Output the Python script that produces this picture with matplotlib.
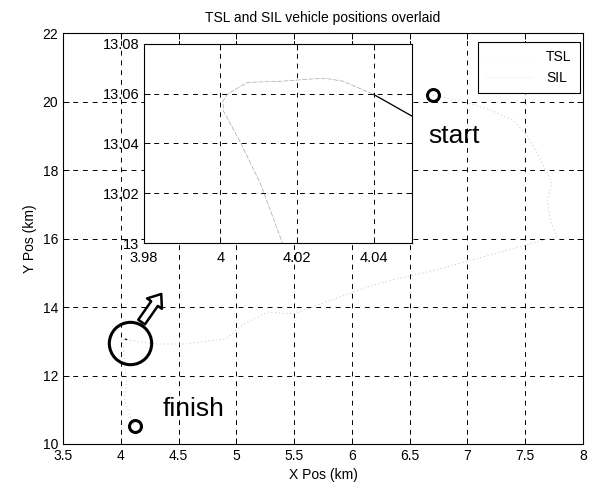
import numpy as np
import matplotlib.pyplot as plt

plt.rcParams['font.family'] = ['Liberation Sans', 'DejaVu Sans']
plt.rcParams['font.size'] = 10

# vehicle track (km), start -> finish
tsl_x = [6.70, 6.85, 6.98, 7.20, 7.39, 7.50, 7.62, 7.73, 7.69, 7.72, 7.77,
         7.60, 7.45, 7.13, 6.79, 6.61, 6.35, 6.13, 5.82, 5.50, 5.27, 5.06,
         4.91, 4.56, 4.32, 4.15,
         4.05, 4.040, 4.032, 4.028, 4.025, 4.016, 4.007, 4.002, 4.0006,
         4.0008, 4.0052, 4.0104, 4.0162,
         4.05, 4.03, 4.09, 4.12]
tsl_y = [20.19, 20.08, 19.98, 19.75, 19.46, 19.08, 18.40, 17.62, 17.12, 16.50,
         16.04, 15.90, 15.75, 15.46, 15.14, 14.99, 14.79, 14.58, 14.20, 13.80,
         13.85, 13.50, 13.07, 12.92, 12.92, 12.99,
         13.051, 13.0597, 13.065, 13.066, 13.066, 13.065, 13.0645, 13.060,
         13.057, 13.053, 13.0404, 13.024, 13.0,
         11.81, 11.31, 10.73, 10.53]
sil_x = [4.040, 4.05]
sil_y = [13.0597, 13.051]

x_ticks = [3.5, 4, 4.5, 5, 5.5, 6, 6.5, 7, 7.5, 8]
x_labels = ['3.5', '4', '4.5', '5', '5.5', '6', '6.5', '7', '7.5', '8']
y_ticks = [10, 12, 14, 16, 18, 20, 22]
in_x_ticks = [3.98, 4.00, 4.02, 4.04]
in_x_labels = ['3.98', '4', '4.02', '4.04']
in_y_ticks = [13.00, 13.02, 13.04, 13.06, 13.08]
in_y_labels = ['13', '13.02', '13.04', '13.06', '13.08']

grid_style = dict(color='black', ls=(0, (5, 5)), lw=0.7)

fig = plt.figure(figsize=(5.9, 4.87), dpi=100)
ax = fig.add_axes([0.1068, 0.0883, 0.8814, 0.8439])

l1, = ax.plot(tsl_x, tsl_y, color='#c8c8c8', lw=0.6, ls=(0, (1.5, 3)), label='TSL')
l2, = ax.plot(sil_x, sil_y, color='black', lw=0.9, label='SIL')

# start / finish markers and the zoomed region
ax.plot(tsl_x[0], tsl_y[0], 'o', ms=8.6, mfc='none', mec='black', mew=2.2)
ax.plot(tsl_x[-1], tsl_y[-1], 'o', ms=8.6, mfc='none', mec='black', mew=2.2)
ax.plot(4.08, 12.95, 'o', ms=30.5, mfc='none', mec='black', mew=2.2)
ax.annotate('', xy=(4.35, 14.38), xytext=(4.18, 13.56),
            arrowprops=dict(arrowstyle='simple,head_length=0.65,head_width=1.0,tail_width=0.45',
                            fc='white', ec='black', lw=1.8, mutation_scale=13,
                            shrinkA=0, shrinkB=0))
ax.text(6.66, 18.79, 'start', fontsize=19, va='baseline')
ax.text(4.365, 10.82, 'finish', fontsize=19, va='baseline')

ax.set_xlim(3.5, 8)
ax.set_ylim(10, 22)
ax.set_xticks(x_ticks)
ax.set_xticklabels(x_labels)
ax.set_yticks(y_ticks)
ax.grid(True, **grid_style)
ax.tick_params(direction='in', top=True, right=True, length=4, width=0.7)
for s in ax.spines.values():
    s.set_linewidth(0.8)
ax.set_title('TSL and SIL vehicle positions overlaid', fontsize=10, pad=8)
ax.set_xlabel('X Pos (km)')
ax.set_ylabel('Y Pos (km)')

leg = ax.legend(loc='upper right', bbox_to_anchor=(580 / 590, 1 - 42 / 487),
                bbox_transform=fig.transFigure, fancybox=False, framealpha=1,
                edgecolor='black', handlelength=3.3, handletextpad=1.0,
                borderpad=0.6, labelspacing=0.45, borderaxespad=0)
leg.get_frame().set_linewidth(0.8)
for h in leg.get_lines():
    h.set_color('#f6f6f6')

# inset zoom near the loop
axin = fig.add_axes([0.244, 0.501, 0.454, 0.409])
axin.plot(tsl_x, tsl_y, color='#a8a8a8', lw=0.5, ls=(0, (7, 2)))
axin.plot(sil_x, sil_y, color='black', lw=0.9)
axin.set_xlim(3.98, 4.05)
axin.set_ylim(13.0, 13.08)
axin.set_xticks(in_x_ticks)
axin.set_xticklabels(in_x_labels)
axin.set_yticks(in_y_ticks)
axin.set_yticklabels(in_y_labels)
axin.grid(True, **grid_style)
axin.tick_params(direction='in', top=True, right=True, length=4, width=0.7, labelsize=10.5)
axin.tick_params(axis='x', pad=6)
for s in axin.spines.values():
    s.set_linewidth(0.8)

fig.savefig('out.png', dpi=100)
